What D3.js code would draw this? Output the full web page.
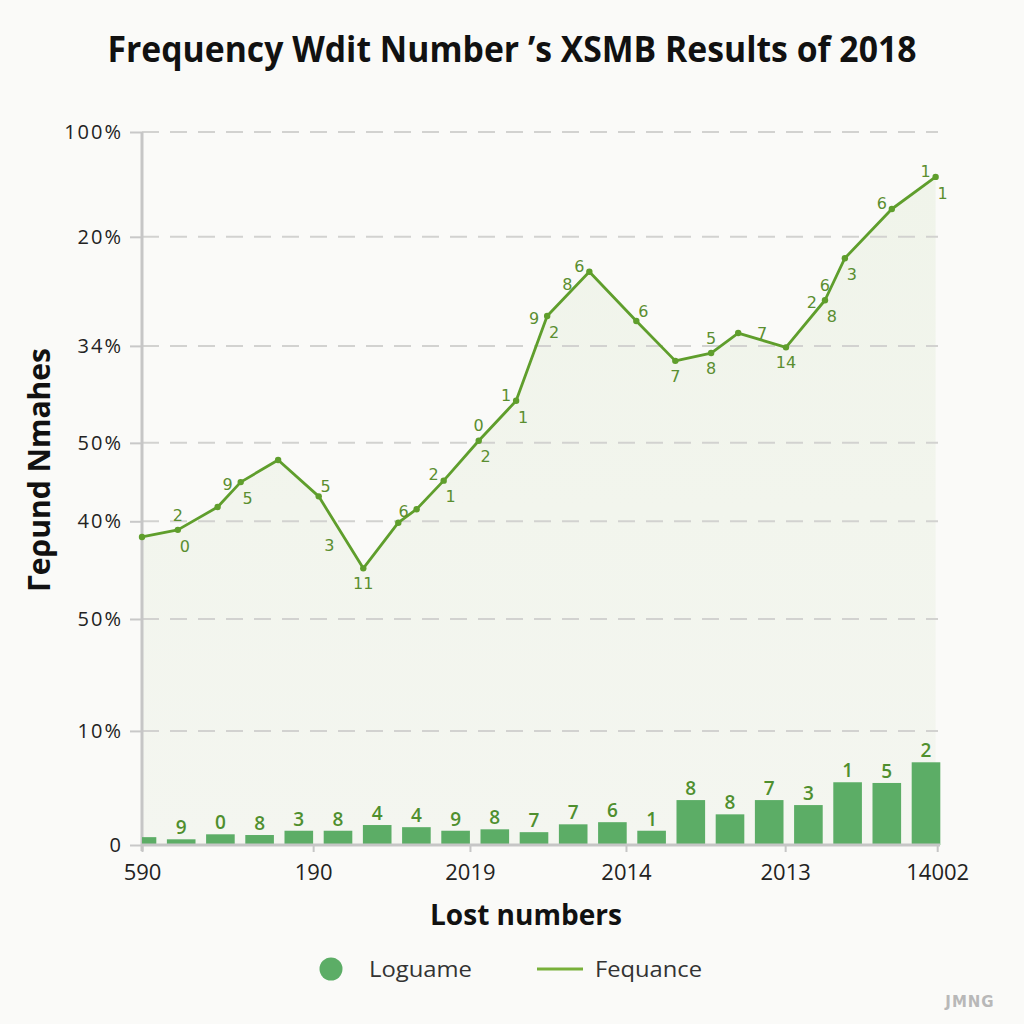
<!DOCTYPE html>
<html><head><meta charset="utf-8">
<script src="https://cdn.jsdelivr.net/npm/d3@7"></script>
<style>body{margin:0;background:#fafaf8}svg{display:block}</style>
</head><body><svg id="c" width="1024" height="1024"></svg>
<script>
// ---------- data ----------
const chartTitle = "Frequency Wdit Number \u2019s XSMB Results of 2018";
const yTitle = "\u0413e\u03c1und Nmahes";
const xTitle = "Lost numbers";
const yTickValues = [0, 16, 31.7, 45.4, 56.4, 70, 85.3, 100];
const yTickLabels = ["0", "10%", "50%", "40%", "50%", "34%", "20%", "100%"];
const xTickValues = [0, 21.5, 41.2, 60.8, 80.8, 99.9];
const xTickLabels = ["590", "190", "2019", "2014", "2013", "14002"];

const lineX = [0, 4.5, 9.5, 12.4, 17.1, 22.2, 27.8, 32.2, 34.5, 37.9, 42.3, 47.0, 50.9, 56.2, 62.1, 67.0, 71.5, 74.9, 80.9, 85.8, 88.3, 94.2, 99.7];
const lineY = [43.2, 44.2, 47.4, 50.9, 54.0, 48.9, 38.8, 45.2, 47.1, 51.1, 56.7, 62.3, 74.2, 80.4, 73.5, 67.9, 69.0, 71.8, 69.8, 76.4, 82.3, 89.2, 93.7];

const lineLabelIndex = [1, 1, 3, 3, 5, 6, 6, 8, 9, 9, 10, 10, 11, 11, 12, 12, 13, 13, 14, 15, 16, 16, 17, 18, 19, 19, 19, 20, 21, 22, 22];
const lineLabelText  = ["2", "0", "9", "5", "5", "3", "11", "6", "2", "1", "0", "2", "1", "1", "9", "2", "8", "6", "6", "7", "5", "8", "7", "14", "2", "6", "8", "3", "6", "1", "1"];
const lineLabelPlace = ["a", "br", "l", "br", "ar", "ul", "b", "l", "al", "br", "a", "br", "al", "br", "l", "br", "lw", "al", "ar", "b", "a", "b", "r", "b", "l", "a", "br", "br", "al", "al", "br"];

const barCategories = d3.range(21);
const barValues = [1.1, 0.8, 1.5, 1.4, 2.0, 2.0, 2.8, 2.5, 2.0, 2.2, 1.8, 2.9, 3.2, 2.0, 6.3, 4.3, 6.3, 5.6, 8.8, 8.7, 11.6];
const barLabels = ["", "9", "0", "8", "3", "8", "4", "4", "9", "8", "7", "7", "6", "1", "8", "8", "7", "3", "1", "5", "2"];

const legendItems = ["Loguame", "Fequance"];
const watermark = "JMNG";

// ---------- layout / style ----------
const L = 142, R = 938, T = 132, B = 845;
const lineColor = "#5f9e2c", barColor = "#5cad66", labelColor = "#5a8e30";
const svg = d3.select("#c");
svg.append("rect").attr("width", 1024).attr("height", 1024).attr("fill", "#fafaf8");

const x = d3.scaleLinear().domain([0, 100]).range([L, R]);
const y = d3.scaleLinear().domain([0, 100]).range([B, T]);
const xb = d3.scaleBand().domain(barCategories).range([L - 19.6, 926 + 19.6]).paddingInner(0.27).paddingOuter(0.135);

const defs = svg.append("defs");
defs.append("clipPath").attr("id", "plotClip").append("rect")
  .attr("x", L).attr("y", 0).attr("width", R - L + 4).attr("height", B + 1);
const grad = defs.append("linearGradient").attr("id", "areaGrad").attr("x1", 0).attr("y1", 0).attr("x2", 0).attr("y2", 1);
grad.append("stop").attr("offset", "0%").attr("stop-color", "#f0f4ea");
grad.append("stop").attr("offset", "100%").attr("stop-color", "#f4f6f0");

// title
svg.append("text").attr("x", 512).attr("y", 62).attr("text-anchor", "middle")
  .attr("font-family", "Open Sans, sans-serif").attr("font-weight", 700).attr("font-size", 36)
  .attr("fill", "#111").attr("textLength", 809).attr("lengthAdjust", "spacingAndGlyphs").text(chartTitle);

const pts = lineX.map((v, i) => [v, lineY[i]]);

// area
svg.append("path").datum(pts)
  .attr("d", d3.area().x(d => x(d[0])).y0(B).y1(d => y(d[1])))
  .attr("fill", "url(#areaGrad)");

// gridlines
svg.append("g").selectAll("line").data(yTickValues.filter(v => v > 0)).join("line")
  .attr("x1", L).attr("x2", R).attr("y1", d => y(d)).attr("y2", d => y(d))
  .attr("stroke", "#d2d2d0").attr("stroke-width", 2).attr("stroke-dasharray", "17,11");

// y axis
const yAxis = d3.axisLeft(y).tickValues(yTickValues).tickFormat((d, i) => yTickLabels[i]).tickSize(12).tickPadding(7);
const gy = svg.append("g").attr("transform", `translate(${L},0)`).call(yAxis);
gy.select(".domain").remove();
gy.selectAll(".tick line").attr("stroke", "#c8c8c8").attr("stroke-width", 2);
gy.selectAll(".tick text").attr("font-family", "Open Sans, sans-serif").attr("font-size", 20)
  .attr("fill", "#222").attr("letter-spacing", "2px");
svg.append("line").attr("x1", L).attr("x2", L).attr("y1", T).attr("y2", B + 6)
  .attr("stroke", "#c6c6c6").attr("stroke-width", 3);

// bars
svg.append("g").attr("clip-path", "url(#plotClip)").selectAll("rect").data(barValues).join("rect")
  .attr("x", (d, i) => xb(barCategories[i])).attr("width", xb.bandwidth())
  .attr("y", d => y(d)).attr("height", d => B - y(d)).attr("fill", barColor);
svg.append("g").selectAll("text").data(barValues).join("text")
  .attr("x", (d, i) => xb(barCategories[i]) + xb.bandwidth() / 2).attr("y", d => y(d) - 5)
  .attr("text-anchor", "middle").attr("font-family", "Open Sans, sans-serif").attr("font-weight", 600)
  .attr("font-size", 19).attr("fill", "#4f8f2e").text((d, i) => barLabels[i]);

// x axis
const xAxis = d3.axisBottom(x).tickValues(xTickValues).tickFormat((d, i) => xTickLabels[i]).tickSize(7).tickPadding(12);
const gx = svg.append("g").attr("transform", `translate(0,${B})`).call(xAxis);
gx.select(".domain").attr("stroke", "#c6c6c6").attr("stroke-width", 3).attr("d", `M${L},0H${R + 2}`);
gx.selectAll(".tick line").attr("stroke", "#c6c6c6").attr("stroke-width", 2);
gx.selectAll(".tick text").attr("font-family", "Open Sans, sans-serif").attr("font-size", 22).attr("fill", "#222");

// line
svg.append("path").datum(pts)
  .attr("d", d3.line().x(d => x(d[0])).y(d => y(d[1])))
  .attr("fill", "none").attr("stroke", lineColor).attr("stroke-width", 2.8).attr("stroke-linejoin", "round");
svg.append("g").selectAll("circle").data(pts).join("circle")
  .attr("cx", d => x(d[0])).attr("cy", d => y(d[1])).attr("r", 3.2).attr("fill", lineColor);

// point labels
const place = {
  a: [0, -15], b: [0, 15], br: [7, 16], al: [-10, -6], ar: [7, -10],
  l: [-13, 2], r: [24, 0], ul: [-34, -23], lw: [-22, 12]
};
svg.append("g").selectAll("text").data(lineLabelIndex).join("text")
  .attr("x", (d, i) => x(lineX[d]) + place[lineLabelPlace[i]][0])
  .attr("y", (d, i) => y(lineY[d]) + place[lineLabelPlace[i]][1])
  .attr("dy", "0.36em").attr("text-anchor", "middle")
  .attr("font-family", "DejaVu Sans, sans-serif").attr("font-size", 16).attr("fill", labelColor)
  .text((d, i) => lineLabelText[i]);

// axis titles
svg.append("text").attr("x", 526).attr("y", 925).attr("text-anchor", "middle")
  .attr("font-family", "Open Sans, sans-serif").attr("font-weight", 700).attr("font-size", 29)
  .attr("fill", "#111").attr("textLength", 192).attr("lengthAdjust", "spacingAndGlyphs").text(xTitle);
svg.append("text").attr("transform", "translate(50,470) rotate(-90)").attr("text-anchor", "middle")
  .attr("font-family", "Open Sans, sans-serif").attr("font-weight", 700).attr("font-size", 30)
  .attr("fill", "#111").attr("textLength", 244).attr("lengthAdjust", "spacingAndGlyphs").text(yTitle);

// legend
const lg = svg.append("g");
lg.append("circle").attr("cx", 331).attr("cy", 969).attr("r", 11.5).attr("fill", barColor);
lg.append("text").attr("x", 369).attr("y", 977).attr("font-family", "Open Sans, sans-serif").attr("font-size", 22)
  .attr("fill", "#333").attr("textLength", 103).attr("lengthAdjust", "spacingAndGlyphs").text(legendItems[0]);
lg.append("line").attr("x1", 537).attr("x2", 583).attr("y1", 969).attr("y2", 969)
  .attr("stroke", "#78b03a").attr("stroke-width", 3);
lg.append("text").attr("x", 595).attr("y", 977).attr("font-family", "Open Sans, sans-serif").attr("font-size", 22)
  .attr("fill", "#333").attr("textLength", 107).attr("lengthAdjust", "spacingAndGlyphs").text(legendItems[1]);

// watermark
svg.append("text").attr("x", 970).attr("y", 1007).attr("text-anchor", "middle")
  .attr("font-family", "DejaVu Sans, sans-serif").attr("font-weight", 700).attr("font-size", 15)
  .attr("fill", "#b8b8b8").attr("letter-spacing", "1px").text(watermark);
</script></body></html>
